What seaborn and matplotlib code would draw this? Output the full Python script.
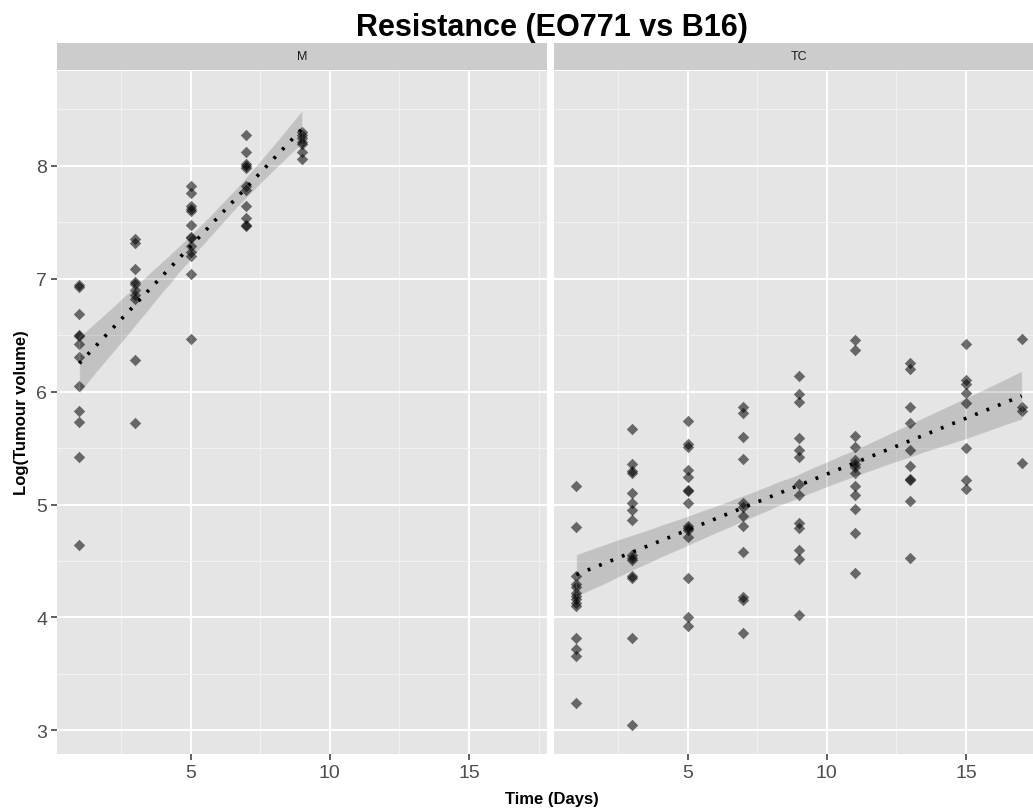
import numpy as np
import pandas as pd
import matplotlib
matplotlib.use("Agg")
import matplotlib.pyplot as plt
import seaborn as sns

# --- DATA ---
DAYS_M = [1, 3, 5, 7, 9]
DAYS_TC = [1, 3, 5, 7, 9, 11, 13, 15, 17]

m_day1 = [6.94, 6.93, 6.69, 6.50, 6.49, 6.42, 6.31, 6.05, 5.83, 5.73, 5.42, 4.64]
m_day3 = [7.35, 7.32, 7.09, 6.97, 6.95, 6.90, 6.86, 6.82, 6.28, 5.72]
m_day5 = [7.82, 7.76, 7.64, 7.62, 7.60, 7.48, 7.37, 7.36, 7.29, 7.24, 7.20, 7.04, 6.47]
m_day7 = [8.27, 8.12, 8.02, 8.00, 7.98, 7.82, 7.79, 7.64, 7.54, 7.48, 7.47]
m_day9 = [8.30, 8.27, 8.25, 8.21, 8.19, 8.12, 8.06]

tc_day1 = [5.16, 4.80, 4.37, 4.30, 4.27, 4.22, 4.19, 4.16, 4.13, 4.10, 3.82, 3.72, 3.66, 3.24]
tc_day3 = [5.67, 5.36, 5.30, 5.28, 5.10, 5.01, 4.95, 4.86, 4.55, 4.53, 4.51, 4.37, 4.35, 3.82, 3.05]
tc_day5 = [5.74, 5.54, 5.51, 5.31, 5.24, 5.13, 5.12, 5.01, 4.81, 4.79, 4.77, 4.71, 4.35, 4.00, 3.92]
tc_day7 = [5.86, 5.81, 5.60, 5.40, 5.01, 4.98, 4.90, 4.81, 4.58, 4.18, 4.15, 3.86]
tc_day9 = [6.14, 5.98, 5.91, 5.59, 5.48, 5.42, 5.18, 5.08, 4.84, 4.79, 4.60, 4.52, 4.02]
tc_day11 = [6.46, 6.37, 5.61, 5.51, 5.39, 5.36, 5.33, 5.28, 5.16, 5.08, 4.96, 4.75, 4.39]
tc_day13 = [6.25, 6.20, 5.86, 5.72, 5.48, 5.34, 5.23, 5.22, 5.03, 4.53]
tc_day15 = [6.42, 6.10, 6.07, 5.99, 5.90, 5.50, 5.22, 5.14]
tc_day17 = [6.47, 5.86, 5.83, 5.37]

PANELS = ["M", "TC"]
TITLE = "Resistance (EO771 vs B16)"
X_TICKS = [5, 10, 15]
Y_TICKS = [3, 4, 5, 6, 7, 8]


def to_long(days, groups, label):
    rows = []
    for d, vals in zip(days, groups):
        for v in vals:
            rows.append({"day": d, "logvol": v, "group": label})
    return rows


df = pd.DataFrame(
    to_long(DAYS_M, [m_day1, m_day3, m_day5, m_day7, m_day9], "M")
    + to_long(DAYS_TC, [tc_day1, tc_day3, tc_day5, tc_day7, tc_day9,
                        tc_day11, tc_day13, tc_day15, tc_day17], "TC")
)

# --- STYLE ---
sns.set_theme(style="darkgrid")
plt.rcParams["font.family"] = ["Liberation Sans", "DejaVu Sans"]

W, H = 1033, 812
fig = plt.figure(figsize=(W / 100, H / 100), dpi=100)

panel_w = 490
panel_top, panel_bot = 72, 755
lefts = [57, 554]

for i, grp in enumerate(PANELS):
    ax = fig.add_axes([lefts[i] / W, 1 - panel_bot / H, panel_w / W, (panel_bot - panel_top) / H])
    ax.set_facecolor("#E5E5E5")
    sub = df[df["group"] == grp]
    sns.regplot(data=sub, x="day", y="logvol", ax=ax, color="black", marker="D",
                scatter_kws={"s": 34, "alpha": 0.55, "linewidths": 0},
                line_kws={"linestyle": (0, (0.8, 2.6)), "lw": 2.6},
                n_boot=1000, seed=7)
    ax.set_xlim(0.2, 17.8)
    ax.set_ylim(2.79, 8.84)
    ax.set_xticks(X_TICKS)
    ax.set_yticks(Y_TICKS)
    ax.set_xticks([2.5, 7.5, 12.5, 17.5], minor=True)
    ax.set_yticks([3.5, 4.5, 5.5, 6.5, 7.5, 8.5], minor=True)
    ax.grid(which="major", color="white", lw=1.4)
    ax.grid(which="minor", color="#F2F2F2", lw=0.7)
    ax.set_axisbelow(True)
    for s in ax.spines.values():
        s.set_visible(False)
    ax.set_xlabel("")
    ax.set_ylabel("")
    ax.tick_params(which="major", length=4, color="#4D4D4D", labelcolor="#4D4D4D",
                   labelsize=14, pad=3, bottom=True, left=(i == 0))
    ax.tick_params(which="minor", length=0)
    if i == 1:
        ax.set_yticklabels([])

    # facet strip
    sax = fig.add_axes([lefts[i] / W, 1 - 71 / H, panel_w / W, 27 / H])
    sax.set_facecolor("#CCCCCC")
    sax.set_xticks([])
    sax.set_yticks([])
    for s in sax.spines.values():
        s.set_visible(False)
    sax.text(0.5, 0.5, grp, ha="center", va="center", fontsize=9, color="#1A1A1A",
             transform=sax.transAxes)

fig.text(552 / W, 1 - 28 / H, TITLE, ha="center", va="center", fontsize=22,
         weight="bold", color="black")
fig.text(552 / W, 1 - 800 / H, "Time (Days)", ha="center", va="center", fontsize=12,
         weight="bold", color="black")
fig.text(22 / W, 1 - 413 / H, "Log(Tumour volume)", ha="center", va="center", rotation=90,
         fontsize=12, weight="bold", color="black")

fig.savefig("out.png", dpi=100)
